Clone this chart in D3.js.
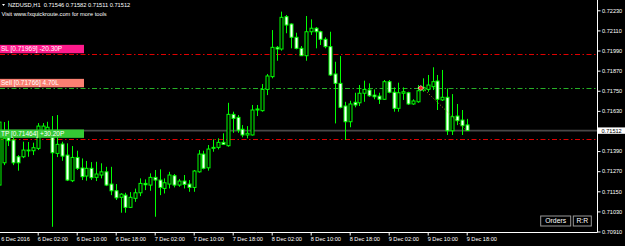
<!DOCTYPE html>
<html><head><meta charset="utf-8">
<script src="https://cdn.jsdelivr.net/npm/d3@7"></script>
<style>
body{margin:0;background:#000;overflow:hidden}
svg{display:block}
text{font-family:"Liberation Sans",Arial,sans-serif}
</style>
</head><body>
<svg id="c" width="625" height="246"></svg>
<script>
// ---------- data ----------
const symbolTitle = "NZDUSD,H1";
const firstBarTime = "2016-12-05 18:00";
const open  = [0.71187,0.71320,0.71470,0.71456,0.71356,0.71356,0.71394,0.71392,0.71406,0.71498,0.71503,0.71480,0.71376,0.71432,0.71366,0.71213,0.71352,0.71289,0.71241,0.71287,0.71233,0.71247,0.71266,0.71193,0.71153,0.71114,0.71127,0.71054,0.71108,0.71141,0.71197,0.71187,0.71233,0.71217,0.71167,0.71193,0.71243,0.71187,0.71211,0.71193,0.71173,0.71266,0.71372,0.71290,0.71406,0.71412,0.71442,0.71422,0.71609,0.71591,0.71520,0.71486,0.71486,0.71635,0.71631,0.71758,0.71834,0.72009,0.71999,0.72192,0.72148,0.72069,0.72003,0.71959,0.72102,0.72123,0.72102,0.72057,0.72013,0.71850,0.71794,0.71659,0.71565,0.71681,0.71678,0.71735,0.71754,0.71724,0.71718,0.71699,0.71804,0.71741,0.71645,0.71735,0.71738,0.71671,0.71684,0.71754,0.71758,0.71774,0.71808,0.71695,0.71711,0.71511,0.71599,0.71575,0.71546];
const high  = [0.71585,0.71563,0.71571,0.71468,0.71366,0.71446,0.71444,0.71440,0.71557,0.71557,0.71565,0.71599,0.71605,0.71446,0.71436,0.71420,0.71392,0.71346,0.71331,0.71324,0.71326,0.71317,0.71296,0.71296,0.71193,0.71139,0.71141,0.71145,0.71166,0.71227,0.71221,0.71257,0.71277,0.71281,0.71227,0.71266,0.71253,0.71223,0.71247,0.71217,0.71277,0.71396,0.71392,0.71426,0.71460,0.71466,0.71496,0.71678,0.71625,0.71605,0.71545,0.71539,0.71665,0.71665,0.71790,0.71850,0.72112,0.72017,0.72222,0.72202,0.72152,0.72096,0.72017,0.72196,0.72176,0.72130,0.72108,0.72069,0.72102,0.71923,0.71957,0.71684,0.71690,0.71738,0.71784,0.71810,0.71794,0.71758,0.71738,0.71814,0.71814,0.71770,0.71798,0.71770,0.71744,0.71699,0.71784,0.71824,0.71844,0.71890,0.71844,0.71874,0.71764,0.71730,0.71671,0.71635,0.71582];
const low   = [0.71167,0.71306,0.71420,0.71306,0.71273,0.71348,0.71356,0.71366,0.71396,0.71480,0.71480,0.70938,0.71354,0.71332,0.71211,0.71205,0.71277,0.71217,0.71213,0.71217,0.71211,0.71227,0.71181,0.71127,0.71098,0.71022,0.71022,0.71050,0.71087,0.71121,0.71157,0.71153,0.70998,0.71127,0.71137,0.71167,0.71173,0.71177,0.71167,0.71147,0.71147,0.71261,0.71281,0.71273,0.71386,0.71400,0.71426,0.71416,0.71499,0.71499,0.71472,0.71466,0.71483,0.71599,0.71625,0.71724,0.71824,0.71929,0.71989,0.72093,0.72003,0.71997,0.71957,0.71929,0.72083,0.72003,0.72023,0.72003,0.71838,0.71555,0.71645,0.71456,0.71532,0.71651,0.71659,0.71684,0.71714,0.71699,0.71671,0.71695,0.71735,0.71625,0.71625,0.71695,0.71665,0.71666,0.71678,0.71744,0.71744,0.71754,0.71635,0.71689,0.71486,0.71486,0.71545,0.71486,0.71511];
const close = [0.71563,0.71466,0.71452,0.71320,0.71320,0.71396,0.71396,0.71410,0.71539,0.71539,0.71532,0.71380,0.71430,0.71360,0.71217,0.71352,0.71287,0.71237,0.71287,0.71231,0.71253,0.71266,0.71187,0.71153,0.71111,0.71133,0.71054,0.71114,0.71141,0.71197,0.71189,0.71233,0.71217,0.71173,0.71201,0.71247,0.71187,0.71211,0.71191,0.71173,0.71271,0.71372,0.71287,0.71402,0.71412,0.71442,0.71430,0.71609,0.71585,0.71515,0.71486,0.71496,0.71635,0.71641,0.71758,0.71838,0.72009,0.71999,0.72188,0.72142,0.72069,0.72003,0.71959,0.72102,0.72123,0.72102,0.72057,0.72013,0.71844,0.71794,0.71651,0.71565,0.71671,0.71665,0.71735,0.71758,0.71720,0.71714,0.71699,0.71804,0.71741,0.71645,0.71738,0.71744,0.71671,0.71689,0.71750,0.71770,0.71784,0.71804,0.71699,0.71711,0.71511,0.71595,0.71571,0.71541,0.71512];
const priceTicks = [0.72230,0.72110,0.71990,0.71870,0.71750,0.71630,0.71390,0.71270,0.71150,0.71030,0.70910];
const bidPrice = 0.71512;
const timeTickLabels = ["6 Dec 2016","6 Dec 02:00","6 Dec 10:00","6 Dec 18:00","7 Dec 02:00","7 Dec 10:00","7 Dec 18:00","8 Dec 02:00","8 Dec 10:00","8 Dec 18:00","9 Dec 02:00","9 Dec 10:00","9 Dec 18:00"];
const levelNames  = ["SL","Sell","TP"];
const levelPrices = [0.71969,0.71766,0.71464];
const levelTexts  = ["SL [0.71969] -20.30P","Sell [0.71766] 4.70L","TP [0.71464] +30.20P"];
const levelBoxColors  = ["#ff1a8c","#fa8072","#35c935"];
const levelLineColors = ["#e00000","#26b026","#e00000"];
const entryTime = "9 Dec 09:00";
const subtitle = "Visit www.fxquickroute.com for more tools";
const buttons = ["Orders","R:R"];

// ---------- build ----------
const parse = d3.timeParse("%Y-%m-%d %H:%M");
const fmt = d3.timeFormat("%-d %b %H:%M");
const t0 = parse(firstBarTime);
const bars = open.map((o,i)=>({
  time: fmt(d3.timeHour.offset(t0,i)), o, h:high[i], l:low[i], c:close[i]
}));
const times = bars.map(b=>b.time);

const W=625,H=246, plotR=597.5, plotB=232.5;
const x = d3.scalePoint().domain(times).range([-1.3,466.7]);
const y = d3.scaleLinear().domain([0.70910,0.72230]).range([231.5,10.3]);

const svg = d3.select("#c");
svg.append("rect").attr("width",W).attr("height",H).attr("fill","#000");

const plot = svg.append("g");
svg.append("defs").append("clipPath").attr("id","pc")
  .append("rect").attr("x",0).attr("y",0).attr("width",plotR).attr("height",plotB);
plot.attr("clip-path","url(#pc)");

// bid line
plot.append("line").attr("x1",0).attr("x2",plotR)
  .attr("y1",y(bidPrice)).attr("y2",y(bidPrice))
  .attr("stroke","#484848").attr("stroke-width",1.6);

// level lines
levelPrices.forEach((p,k)=>{
  plot.append("line").attr("x1",0).attr("x2",plotR)
    .attr("y1",Math.round(y(p))+0.5).attr("y2",Math.round(y(p))+0.5)
    .attr("stroke",levelLineColors[k]).attr("stroke-width",1)
    .attr("stroke-dasharray","5,2.5,1.5,2.5");
});

// candles
const G="#00ff00";
const cg = plot.append("g");
cg.selectAll("line.w").data(bars).join("line").attr("class","w")
  .attr("x1",d=>Math.round(x(d.time))+0.5).attr("x2",d=>Math.round(x(d.time))+0.5)
  .attr("y1",d=>y(d.h)).attr("y2",d=>y(d.l))
  .attr("stroke",G).attr("stroke-width",1);
cg.selectAll("rect.b").data(bars).join("rect").attr("class","b")
  .attr("x",d=>Math.round(x(d.time))-1)
  .attr("width",3)
  .attr("y",d=>y(Math.max(d.o,d.c)))
  .attr("height",d=>Math.max(0.8,Math.abs(y(d.o)-y(d.c))))
  .attr("fill",d=>d.c>=d.o?"#000":"#fff")
  .attr("stroke",G).attr("stroke-width",1);

// trade dotted line and entry arrow
const last = bars[bars.length-1];
plot.append("line")
  .attr("x1",x(entryTime)).attr("y1",y(levelPrices[1]))
  .attr("x2",x(last.time)).attr("y2",y(last.c))
  .attr("stroke","#b08a2a").attr("stroke-width",1).attr("stroke-dasharray","1,2");
const ex = x(entryTime)-2, ey = y(levelPrices[1]);
plot.append("path")
  .attr("d",`M${ex-3},${ey} L${ex},${ey-2.5} L${ex+3},${ey} L${ex},${ey+2.5} Z`)
  .attr("fill","#ff2020").attr("stroke","#fff").attr("stroke-width",0.6);

// level boxes
levelPrices.forEach((p,k)=>{
  const yy = y(p);
  svg.append("rect").attr("x",0).attr("y",yy-9.2).attr("width",84).attr("height",8.4)
    .attr("fill",levelBoxColors[k]);
  svg.append("text").attr("x",1).attr("y",yy-2.6)
    .attr("fill","#fff").attr("font-size",6.5).text(levelTexts[k]);
});

// borders
svg.append("line").attr("x1",plotR).attr("x2",plotR).attr("y1",0).attr("y2",plotB)
  .attr("stroke","#fff").attr("stroke-width",1);
svg.append("line").attr("x1",0).attr("x2",plotR).attr("y1",plotB).attr("y2",plotB)
  .attr("stroke","#fff").attr("stroke-width",1);

// right axis
const ra = svg.append("g").attr("transform",`translate(${plotR},0)`)
  .call(d3.axisRight(y).tickValues(priceTicks).tickSize(3).tickPadding(1.5).tickFormat(d3.format(".5f")));
ra.select(".domain").remove();
ra.selectAll("line").attr("stroke","#fff");
ra.selectAll("text").attr("fill","#fff").attr("font-size",5.6).attr("font-family","Liberation Sans, Arial, sans-serif");

// bid label
svg.append("rect").attr("x",plotR+0.5).attr("y",y(bidPrice)-3.2).attr("width",27).attr("height",6.4).attr("fill","#fff");
svg.append("text").attr("x",plotR+4).attr("y",y(bidPrice)+2).attr("fill","#000")
  .attr("font-size",5.6).text(d3.format(".5f")(bidPrice));

// bottom axis
const tickPos = timeTickLabels.map((lab,k)=> k===0 ? times[0] : times.find(t=>t===lab));
const ba = svg.append("g").attr("transform",`translate(0,${plotB})`)
  .call(d3.axisBottom(x).tickValues(tickPos).tickSize(3).tickPadding(2)
    .tickFormat((t,k)=>timeTickLabels[k]));
ba.select(".domain").remove();
ba.selectAll("line").attr("stroke","#fff");
ba.selectAll("line").filter((d,k)=>k===0).remove();
ba.selectAll("text").attr("fill","#fff").attr("font-size",5.6)
  .attr("text-anchor","start").attr("dy","0.55em").attr("dx",-0.5)
  .attr("font-family","Liberation Sans, Arial, sans-serif");
ba.selectAll("text").filter((d,k)=>k===0).attr("dx",2);

// title
svg.append("path").attr("d","M2,4 L5,4 L3.5,6 Z").attr("fill","#fff");
svg.append("text").attr("x",8).attr("y",7.4).attr("fill","#fff").attr("font-size",5.7)
  .attr("xml:space","preserve").style("white-space","pre")
  .text(`${symbolTitle}  ${d3.format(".5f")(last.o)} ${d3.format(".5f")(last.h)} ${d3.format(".5f")(last.l)} ${d3.format(".5f")(last.c)}`);
svg.append("text").attr("x",1.5).attr("y",16).attr("fill","#fff").attr("font-size",5.7).text(subtitle);

// buttons
const bx=[540.7,573.3], bw=[30,18];
buttons.forEach((b,k)=>{
  svg.append("rect").attr("x",bx[k]).attr("y",216).attr("width",bw[k]).attr("height",10)
    .attr("fill","#000").attr("stroke","#9a9a9a").attr("stroke-width",1);
  svg.append("text").attr("x",bx[k]+bw[k]/2).attr("y",223.4).attr("text-anchor","middle")
    .attr("fill","#fff").attr("font-size",6.8).text(b);
});
</script>
</body></html>
